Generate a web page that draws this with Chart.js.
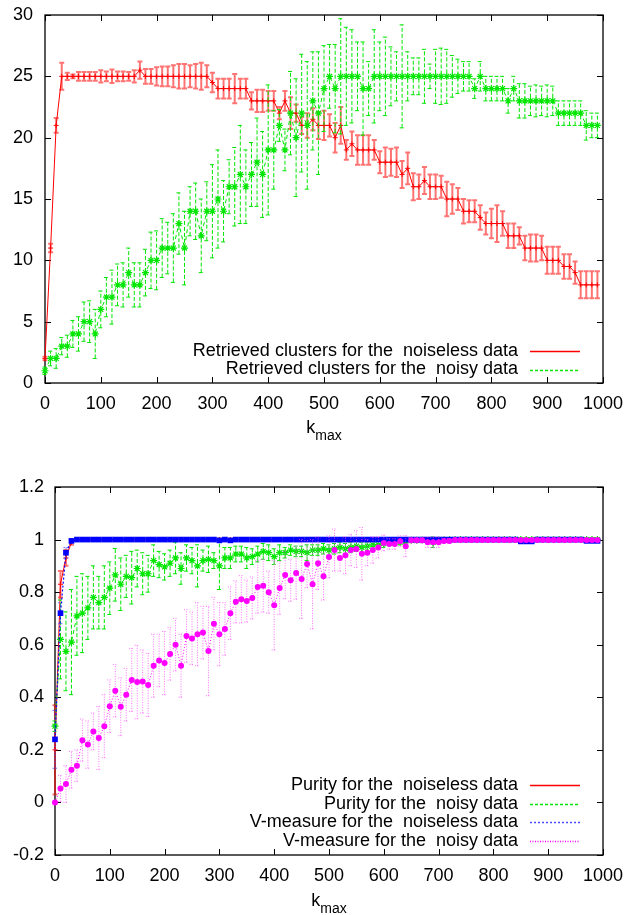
<!DOCTYPE html>
<html><head><meta charset="utf-8">
<script src="https://cdn.jsdelivr.net/npm/chart.js@4.4.1/dist/chart.umd.min.js"></script>
<style>
html,body{margin:0;padding:0;background:#fff;overflow:hidden;}
#w1{position:absolute;left:0;top:0;width:627px;height:455px;}
#w2{position:absolute;left:0;top:455px;width:627px;height:460px;}
canvas{display:block;}
</style></head><body>
<div id="w1"><canvas id="c1"></canvas></div>
<div id="w2"><canvas id="c2"></canvas></div>
<script>
// ---------- data ----------
const kValues = [0,10,20,30,40,50,60,70,80,90,100,110,120,130,140,150,160,170,180,190,
200,210,220,230,240,250,260,270,280,290,300,310,320,330,340,350,360,370,380,390,
400,410,420,430,440,450,460,470,480,490,500,510,520,530,540,550,560,570,580,590,
600,610,620,630,640,650,660,670,680,690,700,710,720,730,740,750,760,770,780,790,
800,810,820,830,840,850,860,870,880,890,900,910,920,930,940,950,960,970,980,990];

const xTicks = [0,100,200,300,400,500,600,700,800,900,1000];
const topYTicks = [0,5,10,15,20,25,30];
const bottomYTicks = [-0.2,0,0.2,0.4,0.6,0.8,1,1.2];

const topLabels = ['Retrieved clusters for the  noiseless data','Retrieved clusters for the  noisy data'];
const bottomLabels = ['Purity for the  noiseless data','Purity for the  noisy data','V-measure for the  noiseless data','V-measure for the  noisy data'];

const clustersNoiseless = [2,11,21,25,25,25,25,25,25,25,
25,25,25,25,25,25,25,25.5,25,25,
25,25,25,25,25,25,25,25,25,25,
24.5,24,24,24,24,24,24,23,23,23,
23,23,22,23,22,22,21,21,21.5,21,
21,21,20,21,19,19.5,19,19,19,19,
18,18,18,18,17,17.5,16,16,16.5,16,
16,16,15,15,15,14,14,14,13.5,13,
13,13,13,12,12,12,11,11,11,11,
10,10,10,9.5,9.5,9,8,8,8,8];
const clustersNoiselessErr = [0.15,0.35,0.6,1.1,0.3,0.15,0.35,0.35,0.35,0.35,
0.5,0.4,0.55,0.4,0.4,0.35,0.5,0.7,0.6,0.6,
0.75,0.8,0.8,0.9,1.0,1.0,0.9,1.0,1.1,0.9,
0.8,0.8,0.8,0.8,1.2,0.8,0.8,0.7,0.9,0.9,
0.8,0.8,0.5,0.8,1.3,0.7,0.7,1.0,0.9,1.1,
1.2,0.9,1.2,1.5,0.8,1.0,1.2,1.2,1.2,0.8,
0.9,1.2,1.1,1.2,1.1,1.3,1.1,1.0,1.1,1.0,
1.0,0.9,1.4,1.2,0.9,1.0,0.9,0.9,1.0,0.9,
1.2,1.5,1.0,1.0,1.0,0.7,1.0,1.1,1.1,1.0,
1.1,1.1,1.1,1.0,1.0,0.9,1.1,1.1,1.1,1.1];
const clustersNoisy = [1,2,2,3,3,4,4,5,5,4,
6,7,7,8,8,9,8,8,9,10,
10,11,11,11,13,11,14,14,12,14,
14,15,14,16,16,17,16,17,18,17,
19,19,21,19,22,20,22,21,23,22,
24,25,24,25,25,25,25,24,24,25,
25,25,25,25,25,25,25,25,25,25,
25,25,25,25,25,25,25,24,25,24,
24,24,24,23,24,23,23,23,23,23,
23,23,22,22,22,22,22,21,21,21];
const clustersNoisyErr = [0.3,0.6,0.8,0.7,0.9,1.1,1.4,1.6,1.7,2.0,
1.5,1.6,2.2,1.7,1.8,2.0,1.8,1.8,1.9,2.3,
2.4,2.4,2.1,2.8,2.5,3.0,2.0,2.3,3.0,2.4,
3.8,4.0,2.5,2.2,3.2,4.0,3.0,2.6,3.6,3.5,
5.3,3.2,1.3,1.7,3.4,4.8,4.8,5.2,4.0,5.0,
3.5,2.6,3.6,4.7,4.0,3.8,2.8,3.8,2.2,3.8,
2.8,3.2,2.4,2.0,4.2,2.0,1.5,1.5,2.2,1.0,
2.2,2.3,2.2,1.7,1.4,1.2,1.2,0.8,1.2,1.0,
1.0,1.0,1.0,1.0,1.0,1.4,1.4,1.2,1.3,1.2,
1.3,1.2,1.0,1.0,1.0,1.0,1.0,1.2,1.0,1.0];

const purityNoiseless = [0.2,0.83,0.93,0.99,1,1,1,1,1,1,
1,1,1,1,1,1,1,1,1,1,
1,1,1,1,1,1,1,1,1,1,
1,1,1,1,1,1,1,1,1,1,
1,1,1,1,1,1,1,1,1,1,
1,1,1,1,1,1,1,1,1,1,
1,1,1,1,1,1,1,1,1,1,
1,1,1,1,1,1,1,1,1,1,
1,1,1,1,1,1,1,1,1,1,
1,1,1,1,1,1,1,1,1,1];
const purityNoiselessErr = [0.17,0.05,0.03,0.01,0.003,0.003,0.003,0.003,0.003,0.003,
0.003,0.003,0.003,0.003,0.003,0.003,0.003,0.003,0.003,0.003,
0.003,0.003,0.003,0.003,0.003,0.003,0.003,0.003,0.003,0.003,
0.003,0.003,0.003,0.003,0.003,0.003,0.003,0.003,0.003,0.003,
0.003,0.003,0.003,0.003,0.003,0.003,0.003,0.003,0.003,0.003,
0.003,0.003,0.003,0.003,0.003,0.003,0.003,0.003,0.003,0.003,
0.003,0.003,0.003,0.003,0.003,0.003,0.003,0.003,0.003,0.003,
0.003,0.003,0.003,0.003,0.003,0.003,0.003,0.003,0.003,0.003,
0.003,0.003,0.003,0.003,0.003,0.003,0.003,0.003,0.003,0.003,
0.003,0.003,0.003,0.003,0.003,0.003,0.003,0.003,0.003,0.003];
const purityNoisy = [0.29,0.62,0.575,0.61,0.71,0.72,0.74,0.78,0.76,0.78,
0.815,0.866,0.83,0.86,0.855,0.89,0.87,0.87,0.92,0.905,
0.896,0.91,0.93,0.89,0.93,0.92,0.9,0.92,0.925,0.92,
0.9,0.93,0.93,0.945,0.945,0.93,0.935,0.945,0.955,0.95,
0.935,0.95,0.95,0.96,0.955,0.955,0.95,0.96,0.96,0.965,
0.96,0.965,0.97,0.965,0.97,0.975,0.97,0.975,0.98,0.98,
0.985,0.99,0.99,0.99,0.995,0.997,0.997,0.998,0.995,0.99,
0.998,0.998,0.999,1,1,1,1,1,1,1,
1,1,1,1,1,1,1,1,1,1,
1,1,1,1,1,1,1,1,1,1];
const purityNoisyErr = [0.02,0.15,0.15,0.2,0.15,0.15,0.12,0.12,0.1,0.12,
0.1,0.1,0.1,0.08,0.1,0.07,0.08,0.07,0.06,0.05,
0.05,0.05,0.06,0.06,0.05,0.05,0.08,0.04,0.05,0.03,
0.09,0.04,0.04,0.03,0.03,0.04,0.03,0.03,0.03,0.03,
0.03,0.03,0.02,0.02,0.02,0.02,0.03,0.02,0.02,0.02,
0.02,0.02,0.02,0.02,0.02,0.02,0.02,0.015,0.015,0.015,
0.015,0.01,0.01,0.01,0.01,0.005,0.005,0.005,0.01,0.02,
0.005,0.005,0.005,0.003,0.003,0.003,0.003,0.003,0.003,0.003,
0.003,0.003,0.003,0.003,0.003,0.003,0.003,0.003,0.003,0.003,
0.003,0.003,0.003,0.003,0.003,0.003,0.003,0.003,0.003,0.003];
const vNoiseless = [0.24,0.72,0.95,0.995,1,1,1,1,1,1,
1,1,1,1,1,1,1,1,1,1,
1,1,1,1,1,1,1,1,1,1,
0.997,1,0.997,1,1,1,1,1,1,1,
1,1,1,1,1,1,1,1,1,1,
1,1,1,1,1,1,1,1,1,1,
1,1,1,1,1,1,1,1,1,1,
1,1,1,1,1,1,1,1,1,1,
1,1,1,1,1,0.993,0.993,0.993,1,1,
1,1,1,1,1,1,1,0.995,0.995,0.995];
const vNoiselessErr = [0.11,0.04,0.02,0.005,0.002,0.002,0.002,0.002,0.002,0.002,
0.002,0.002,0.002,0.002,0.002,0.002,0.002,0.002,0.002,0.002,
0.002,0.002,0.002,0.002,0.002,0.002,0.002,0.002,0.002,0.002,
0.002,0.002,0.002,0.002,0.002,0.002,0.002,0.002,0.002,0.002,
0.002,0.002,0.002,0.002,0.002,0.002,0.002,0.002,0.002,0.002,
0.002,0.002,0.002,0.002,0.002,0.002,0.002,0.002,0.002,0.002,
0.002,0.002,0.002,0.002,0.002,0.002,0.002,0.002,0.002,0.002,
0.002,0.002,0.002,0.002,0.002,0.002,0.002,0.002,0.002,0.002,
0.002,0.002,0.002,0.002,0.002,0.002,0.002,0.002,0.002,0.002,
0.002,0.002,0.002,0.002,0.002,0.002,0.002,0.002,0.002,0.002];
const vNoisy = [0,0.053,0.07,0.124,0.14,0.237,0.22,0.27,0.245,0.29,
0.366,0.425,0.364,0.41,0.466,0.458,0.46,0.447,0.52,0.54,
0.53,0.565,0.6,0.52,0.633,0.624,0.64,0.646,0.576,0.68,
0.64,0.66,0.72,0.763,0.773,0.766,0.778,0.82,0.824,0.8,
0.75,0.816,0.865,0.845,0.873,0.85,0.907,0.83,0.91,0.86,
0.934,0.96,0.93,0.94,0.96,0.964,0.946,0.95,0.96,0.97,
0.987,0.983,0.983,0.994,0.975,0.997,0.997,0.997,0.99,0.99,
0.99,0.995,0.995,0.998,0.998,0.998,0.998,0.998,0.998,0.998,
0.998,0.998,0.998,0.998,0.998,0.998,0.998,0.998,0.998,0.998,
0.998,0.998,0.998,0.998,0.998,0.998,0.998,0.998,0.998,0.998];
const vNoisyErr = [0,0.05,0.07,0.07,0.06,0.08,0.09,0.07,0.12,0.12,
0.1,0.1,0.11,0.1,0.12,0.14,0.12,0.12,0.12,0.1,
0.12,0.1,0.1,0.12,0.1,0.1,0.12,0.1,0.17,0.1,
0.12,0.1,0.1,0.08,0.09,0.08,0.08,0.1,0.1,0.08,
0.17,0.1,0.09,0.08,0.1,0.15,0.09,0.17,0.1,0.09,
0.08,0.08,0.05,0.07,0.06,0.07,0.1,0.05,0.05,0.04,
0.03,0.02,0.02,0.02,0.04,0.01,0.01,0.01,0.02,0.02,
0.02,0.01,0.01,0.005,0.004,0.004,0.004,0.004,0.004,0.004,
0.004,0.004,0.004,0.004,0.004,0.004,0.004,0.004,0.004,0.004,
0.004,0.004,0.004,0.004,0.004,0.004,0.004,0.004,0.004,0.004];

// ---------- styling ----------
const RED = '#ff0000', GREEN = '#00e600', BLUE = '#0000ff', MAGENTA = '#ff00ff';
const FONT = "'Liberation Sans', Arial, Helvetica, sans-serif";
Chart.defaults.font.family = FONT;
Chart.defaults.font.size = 18;
Chart.defaults.color = '#000';

const toXY = ys => kValues.map((k, i) => ({x: k, y: ys[i]}));

// legend sample styles, in dataset order
const topLegendStyles = [
  {color: RED, dash: []},
  {color: GREEN, dash: [3, 2]}
];
const bottomLegendStyles = [
  {color: RED, dash: []},
  {color: GREEN, dash: [3, 2]},
  {color: '#4a4aff', dash: [2, 2]},
  {color: MAGENTA, dash: [1, 1.5]}
];

// ---------- plugins ----------
const framePlugin = {
  id: 'gpFrame',
  beforeDatasetsDraw(chart) {
    const {ctx, chartArea: a, scales: {x, y}} = chart;
    ctx.save();
    ctx.strokeStyle = '#000'; ctx.lineWidth = 1.3; ctx.setLineDash([]);
    ctx.strokeRect(a.left, a.top, a.right - a.left, a.bottom - a.top);
    const L = 6;
    ctx.lineWidth = 1;
    ctx.beginPath();
    x.ticks.forEach(t => {
      const px = Math.round(x.getPixelForValue(t.value)) + 0.5;
      ctx.moveTo(px, a.bottom); ctx.lineTo(px, a.bottom - L);
      ctx.moveTo(px, a.top); ctx.lineTo(px, a.top + L);
    });
    y.ticks.forEach(t => {
      const py = Math.round(y.getPixelForValue(t.value)) + 0.5;
      ctx.moveTo(a.left, py); ctx.lineTo(a.left + L, py);
      ctx.moveTo(a.right, py); ctx.lineTo(a.right - L, py);
    });
    ctx.stroke();
    ctx.restore();
  }
};

const errorBarPlugin = {
  id: 'errBars',
  beforeDatasetDraw(chart, args) {
    const ds = chart.data.datasets[args.index];
    if (!ds.errors) return;
    const {ctx, scales: {x, y}} = chart;
    const cap = 2.5;
    ctx.save();
    ctx.strokeStyle = ds.errColor;
    ctx.lineWidth = ds.errWidth || 1;
    ctx.setLineDash(ds.errDash || []);
    ctx.beginPath();
    ds.data.forEach((p, i) => {
      const e = ds.errors[i];
      if (!e) return;
      const px = x.getPixelForValue(p.x);
      const y1 = y.getPixelForValue(p.y - e), y2 = y.getPixelForValue(p.y + e);
      ctx.moveTo(px, y1); ctx.lineTo(px, y2);
      ctx.moveTo(px - cap, y1); ctx.lineTo(px + cap, y1);
      ctx.moveTo(px - cap, y2); ctx.lineTo(px + cap, y2);
    });
    ctx.stroke();
    ctx.restore();
  }
};

function makeLegendPlugin(styles, x, y0, dy) {
  return {
    id: 'gpLegend',
    afterDraw(chart) {
      const {ctx} = chart;
      const dsets = chart.data.datasets;
      ctx.save();
      ctx.font = '18px ' + FONT;
      ctx.textAlign = 'right';
      ctx.textBaseline = 'middle';
      dsets.forEach((ds, i) => {
        const yy = y0 + i * dy;
        ctx.fillStyle = '#000';
        ctx.fillText(ds.label, x, yy);
        const st = styles[i];
        ctx.strokeStyle = st.color;
        ctx.lineWidth = 1.5;
        ctx.setLineDash(st.dash);
        ctx.beginPath();
        ctx.moveTo(x + 12, Math.round(yy) + 0.5);
        ctx.lineTo(x + 62, Math.round(yy) + 0.5);
        ctx.stroke();
      });
      ctx.restore();
    }
  };
}

function makeKmaxPlugin(yBase) {
  return {
    id: 'kmax',
    afterDraw(chart) {
      const {ctx, chartArea: a} = chart;
      ctx.save();
      ctx.fillStyle = '#000';
      ctx.textAlign = 'left';
      ctx.textBaseline = 'alphabetic';
      ctx.font = '18px ' + FONT;
      const wk = ctx.measureText('k').width;
      ctx.font = '14px ' + FONT;
      const wm = ctx.measureText('max').width;
      const x0 = (a.left + a.right) / 2 - (wk + wm) / 2;
      ctx.font = '18px ' + FONT;
      ctx.fillText('k', x0, yBase);
      ctx.font = '14px ' + FONT;
      ctx.fillText('max', x0 + wk, yBase + 7);
      ctx.restore();
    }
  };
}

function zeroPad(s) { s.paddingTop = 0; s.paddingBottom = 0; s.paddingLeft = 0; s.paddingRight = 0; }

function xScale(h, pad) {
  return {
    type: 'linear', min: 0, max: 1000,
    afterBuildTicks: s => { s.ticks = xTicks.map(v => ({value: v})); },
    afterFit: s => { s.height = h; zeroPad(s); },
    grid: {display: false, drawTicks: false}, border: {display: false},
    ticks: {padding: pad, maxRotation: 0, autoSkip: false, font: {size: 18}, color: '#000',
      callback: v => String(v)}
  };
}
function yScale(min, max, ticksArr, w, pad) {
  return {
    type: 'linear', min: min, max: max,
    afterBuildTicks: s => { s.ticks = ticksArr.map(v => ({value: v})); },
    afterFit: s => { s.width = w; zeroPad(s); },
    grid: {display: false, drawTicks: false}, border: {display: false},
    ticks: {padding: pad, autoSkip: false, font: {size: 18}, color: '#000',
      callback: v => String(+Number(v).toFixed(1))}
  };
}

const common = {
  responsive: true, maintainAspectRatio: false, animation: false,
  devicePixelRatio: 1, events: [],
};

// ---------- top chart ----------
const topDatasets = [
  {label: topLabels[0], data: toXY(clustersNoiseless), errors: clustersNoiselessErr,
   errColor: 'rgba(255,0,0,0.55)', errWidth: 2,
   borderColor: RED, borderWidth: 1, pointStyle: 'cross', pointRadius: 2.5,
   pointBorderColor: RED, pointBorderWidth: 1, order: 1, clip: false, tension: 0},
  {label: topLabels[1], data: toXY(clustersNoisy), errors: clustersNoisyErr,
   errColor: GREEN, errWidth: 1, errDash: [4, 2],
   borderColor: GREEN, borderWidth: 1, borderDash: [4, 3], pointStyle: 'star', pointRadius: 3.5,
   pointBorderColor: GREEN, pointBorderWidth: 1.2, order: 0, clip: false, tension: 0}
];
new Chart(document.getElementById('c1'), {
  type: 'line',
  data: {datasets: topDatasets},
  options: Object.assign({}, common, {
    layout: {padding: {top: 15, right: 24, left: 0, bottom: 0}},
    scales: {x: xScale(72, 10), y: yScale(0, 30, topYTicks, 45, 12)},
    plugins: {legend: {display: false}, tooltip: {enabled: false}}
  }),
  plugins: [framePlugin, errorBarPlugin, makeLegendPlugin(topLegendStyles, 518, 351, 18.5), makeKmaxPlugin(433)]
});

// ---------- bottom chart ----------
const bottomDatasets = [
  {label: bottomLabels[0], data: toXY(purityNoiseless), errors: purityNoiselessErr,
   errColor: 'rgba(255,0,0,0.55)', errWidth: 2,
   borderColor: RED, borderWidth: 1, pointStyle: 'cross', pointRadius: 2.5,
   pointBorderColor: RED, pointBorderWidth: 1, order: 3, clip: false},
  {label: bottomLabels[1], data: toXY(purityNoisy), errors: purityNoisyErr,
   errColor: GREEN, errWidth: 1, errDash: [4, 2],
   borderColor: GREEN, borderWidth: 1, borderDash: [4, 3], pointStyle: 'star', pointRadius: 3.5,
   pointBorderColor: GREEN, pointBorderWidth: 1.2, order: 2, clip: false},
  {label: bottomLabels[2], data: toXY(vNoiseless), errors: vNoiselessErr,
   errColor: 'rgba(80,80,255,0.8)', errWidth: 1, errDash: [1.5, 1.5],
   borderColor: BLUE, borderWidth: 1.2, borderDash: [2, 2], pointStyle: 'rect', pointRadius: 4,
   pointBackgroundColor: BLUE, pointBorderColor: BLUE, pointBorderWidth: 0, order: 1, clip: false},
  {label: bottomLabels[3], data: toXY(vNoisy), errors: vNoisyErr,
   errColor: 'rgba(255,80,255,0.8)', errWidth: 1, errDash: [1, 1.5],
   borderColor: MAGENTA, borderWidth: 1, borderDash: [1, 2], pointStyle: 'circle', pointRadius: 3,
   pointBackgroundColor: MAGENTA, pointBorderColor: MAGENTA, pointBorderWidth: 0, order: 0, clip: false}
];
new Chart(document.getElementById('c2'), {
  type: 'line',
  data: {datasets: bottomDatasets},
  options: Object.assign({}, common, {
    layout: {padding: {top: 32, right: 24, left: 0, bottom: 0}},
    scales: {x: xScale(60, 10), y: yScale(-0.2, 1.2, bottomYTicks, 55, 11)},
    plugins: {legend: {display: false}, tooltip: {enabled: false}}
  }),
  plugins: [framePlugin, errorBarPlugin, makeLegendPlugin(bottomLegendStyles, 518, 330, 18.7), makeKmaxPlugin(451)]
});
</script>
</body></html>
